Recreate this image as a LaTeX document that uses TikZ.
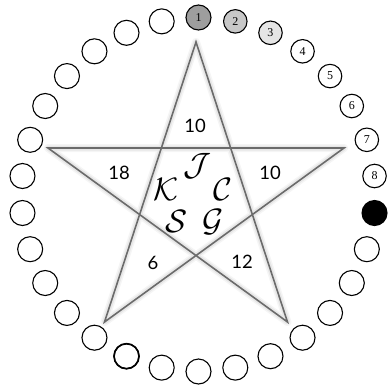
\documentclass[tikz,border=0pt]{standalone}
\usepackage{graphicx}
\usepackage{fontspec}
\setmainfont{Liberation Serif}
\newfontfamily\labfont{Lato}
\newcommand{\bigcal}[1]{\scalebox{1.3}{\fontsize{24.88}{25}\selectfont$\mathcal{#1}$}}
\begin{document}
\begin{tikzpicture}[x=1pt,y=-1pt,
  ring/.style={circle,draw=black,line width=1.1pt,minimum size=25pt,inner sep=0pt,
    font=\fontsize{12}{12}\selectfont},
  numring/.style={ring,minimum size=23.5pt},
  starline/.style={draw=black!58,line width=1.6pt,line join=miter},
  shade1/.style={draw=black,opacity=0.04,line width=8pt,line join=round},
  shade2/.style={draw=black,opacity=0.06,line width=5pt,line join=round},
  num/.style={font=\labfont\fontsize{18.5}{18.5}\selectfont,inner sep=0pt},
  let/.style={inner sep=0pt}]
\useasboundingbox (0,0) rectangle (390,388);
% ring of circles
\node[ring,fill=black!38] (c0) at (198.5,17.5) {1};
\foreach \k/\f/\t in {1/black!22/2,2/black!10/3,3/white/4,4/white/5,5/white/6,6/white/7,7/white/8}{
  \pgfmathsetmacro\a{90-12*\k}
  \node[numring,fill=\f] (c\k) at ({198.5+177*cos(\a)},{194.5-177*sin(\a)}) {\t};
}
\node[ring,fill=black] (c8) at ({198.5+177*cos(-6)},{194.5+177*sin(-6)*-1}) {};
\foreach \k in {9,...,29}{
  \pgfmathsetmacro\a{90-12*\k}
  \node[ring] (c\k) at ({198.5+177*cos(\a)},{194.5-177*sin(\a)}) {};
}
\node[ring,line width=1.7pt] at (c17) {};
% star
\coordinate (T) at (196,42);
\coordinate (L) at (48,148);
\coordinate (R) at (344,148);
\coordinate (BL) at (104.5,322);
\coordinate (BR) at (287.5,322);
\begin{scope}[shift={(1.5,2.5)}]
\draw[shade1] (T) -- (BL) -- (R) -- (L) -- (BR) -- cycle;
\draw[shade2] (T) -- (BL) -- (R) -- (L) -- (BR) -- cycle;
\end{scope}
\draw[starline] (T) -- (BL) -- (R) -- (L) -- (BR) -- cycle;
% numbers
\node[num] (n1) at (195,126) {10};
\node[num] (n2) at (119,173) {18};
\node[num] (n3) at (270,173) {10};
\node[num] (n4) at (153,263) {6};
\node[num] (n5) at (242,262) {12};
% letters
\node[let] (lJ) at (197,166) {\bigcal{J}};
\node[let] (lK) at (166,189) {\bigcal{K}};
\node[let] (lC) at (223,189) {\bigcal{C}};
\node[let] (lS) at (177,221) {\bigcal{S}};
\node[let] (lG) at (213,222) {\bigcal{G}};
\end{tikzpicture}
\end{document}
